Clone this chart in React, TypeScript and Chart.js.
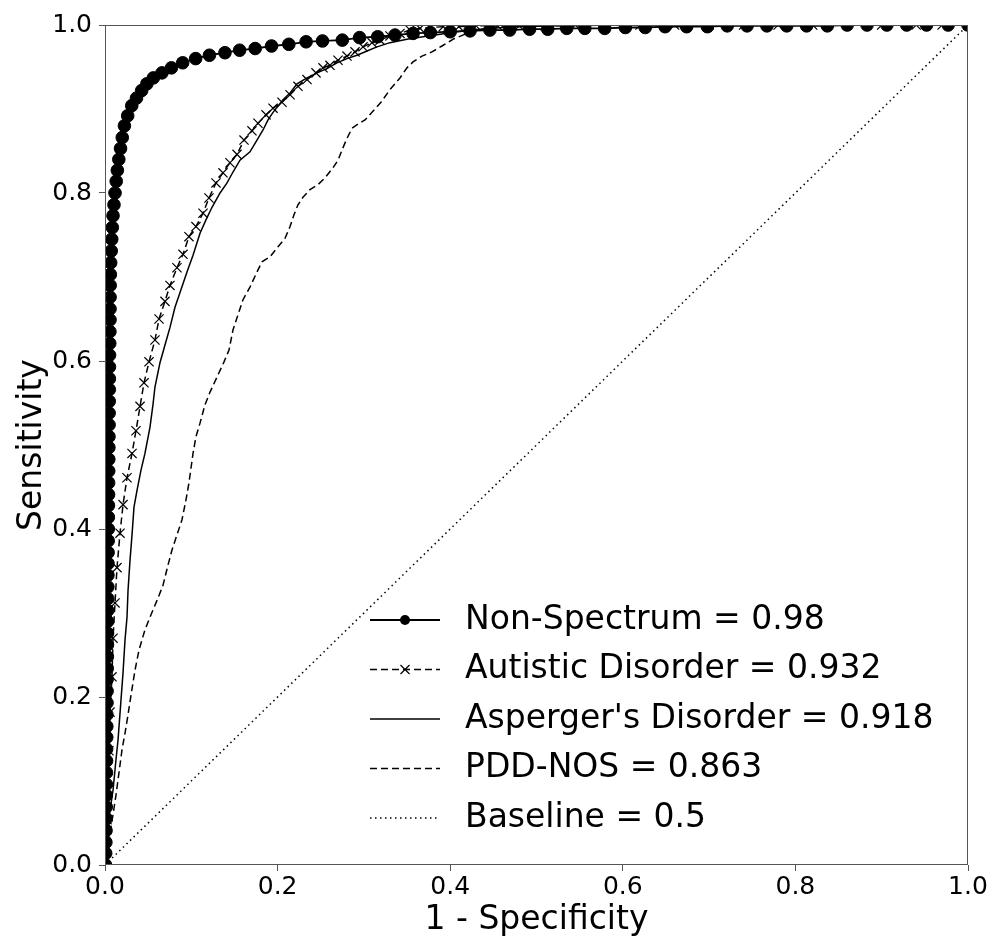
import React, { useEffect, useRef } from "react";
import { Chart, registerables } from "chart.js";

Chart.register(...registerables);

// ---------------- data ----------------
const nonSpectrumX = [
  0.0006, 0.0008, 0.001, 0.0012, 0.0013, 0.0014, 0.0015, 0.0016, 0.0017, 0.0018,
  0.0019, 0.002, 0.0021, 0.0022, 0.0023, 0.0024, 0.0025, 0.0026, 0.0027, 0.0028,
  0.0029, 0.003, 0.0031, 0.0032, 0.0033, 0.0034, 0.0035, 0.0036, 0.0037, 0.0038,
  0.0039, 0.004, 0.0041, 0.0042, 0.0043, 0.0044, 0.0045, 0.0046, 0.0047, 0.0048,
  0.0049, 0.005, 0.0051, 0.0052, 0.0053, 0.0055, 0.0057, 0.0058, 0.0058, 0.0059,
  0.006, 0.0062, 0.0066, 0.0072, 0.0078, 0.0085, 0.0093, 0.0104, 0.0116, 0.013,
  0.0143, 0.016, 0.018, 0.02, 0.0225, 0.0263, 0.031, 0.0365, 0.0425, 0.0485,
  0.056, 0.066, 0.077, 0.09, 0.105, 0.121, 0.139, 0.156, 0.174, 0.193,
  0.213, 0.233, 0.252, 0.275, 0.295, 0.316, 0.336, 0.357, 0.377, 0.4,
  0.423, 0.446, 0.469, 0.492, 0.513, 0.535, 0.556, 0.579, 0.603, 0.626,
  0.649, 0.674, 0.698, 0.721, 0.744, 0.767, 0.79, 0.813, 0.837, 0.86,
  0.883, 0.906, 0.929, 0.952, 0.977, 1.0,
];
const nonSpectrumY = [
  0.0, 0.014, 0.027, 0.041, 0.055, 0.069, 0.083, 0.096, 0.11, 0.124,
  0.138, 0.152, 0.165, 0.179, 0.193, 0.207, 0.221, 0.234, 0.248, 0.262,
  0.276, 0.29, 0.303, 0.317, 0.331, 0.345, 0.359, 0.372, 0.386, 0.4,
  0.414, 0.428, 0.441, 0.455, 0.469, 0.483, 0.497, 0.51, 0.524, 0.538,
  0.552, 0.566, 0.579, 0.593, 0.607, 0.621, 0.635, 0.649, 0.662, 0.676,
  0.69, 0.703, 0.717, 0.731, 0.745, 0.759, 0.773, 0.786, 0.8, 0.814,
  0.827, 0.84, 0.853, 0.866, 0.88, 0.892, 0.904, 0.913, 0.922, 0.93,
  0.937, 0.943, 0.949, 0.955, 0.96, 0.964, 0.967, 0.97, 0.972, 0.975,
  0.977, 0.98, 0.981, 0.982, 0.985, 0.986, 0.988, 0.99, 0.991, 0.992,
  0.993, 0.994, 0.994, 0.995, 0.995, 0.996, 0.996, 0.996, 0.997, 0.997,
  0.998, 0.998, 0.998, 0.999, 0.999, 0.999, 0.999, 0.999, 0.999, 1.0,
  1.0, 1.0, 1.0, 1.0, 1.0, 1.0,
];

const autisticX = [
  0.0, 0.0012, 0.0023, 0.0035, 0.0046, 0.0058, 0.0081, 0.0093, 0.0116, 0.0139,
  0.0174, 0.0209, 0.0255, 0.0313, 0.0359, 0.0406, 0.0452, 0.051, 0.0579, 0.0626,
  0.0695, 0.0753, 0.0834, 0.0904, 0.0973, 0.1054, 0.1136, 0.1205, 0.1286, 0.1367,
  0.1448, 0.153, 0.1611, 0.1703, 0.1773, 0.1866, 0.1947, 0.2051, 0.2144, 0.2236,
  0.2341, 0.2445, 0.2526, 0.2607, 0.27, 0.2804, 0.2897, 0.299, 0.3094, 0.3187,
  0.3302, 0.3418, 0.3534, 0.365, 0.3766, 0.392, 0.41, 0.43, 0.455, 0.48,
  0.51, 0.545, 0.58, 0.62, 0.66, 0.7, 0.74, 0.78, 0.82, 0.86,
  0.9, 0.94, 0.97, 1.0,
];
const autisticY = [
  0.0, 0.02, 0.054, 0.089, 0.136, 0.182, 0.224, 0.27, 0.312, 0.354,
  0.395, 0.429, 0.461, 0.49, 0.517, 0.546, 0.574, 0.599, 0.625, 0.65,
  0.671, 0.69, 0.711, 0.727, 0.748, 0.76, 0.776, 0.794, 0.812, 0.824,
  0.836, 0.846, 0.863, 0.874, 0.883, 0.893, 0.901, 0.908, 0.917, 0.927,
  0.935, 0.943, 0.949, 0.952, 0.958, 0.963, 0.968, 0.974, 0.979, 0.982,
  0.987, 0.99, 0.994, 0.996, 0.997, 0.998, 0.998, 0.999, 0.999, 0.999,
  0.999, 1.0, 1.0, 1.0, 1.0, 1.0, 1.0, 1.0, 1.0, 1.0,
  1.0, 1.0, 1.0, 1.0,
];

const aspergerX = [
  0.0, 0.0012, 0.0035, 0.0058, 0.0093, 0.0127, 0.0151, 0.0185, 0.0209, 0.0232,
  0.0255, 0.0267, 0.029, 0.0313, 0.0336, 0.0371, 0.0417, 0.0463, 0.0521, 0.0556,
  0.0579, 0.0637, 0.0695, 0.0753, 0.0811, 0.0881, 0.095, 0.102, 0.1101, 0.117,
  0.124, 0.1333, 0.1414, 0.1483, 0.1564, 0.168, 0.1761, 0.1831, 0.1889, 0.1947,
  0.2063, 0.2144, 0.2225, 0.2341, 0.2457, 0.2572, 0.2688, 0.2804, 0.292, 0.3036,
  0.3152, 0.3302, 0.3499, 0.3685, 0.3882, 0.4079, 0.4264, 0.4461, 0.481, 0.527,
  0.597, 1.0,
];
const aspergerY = [
  0.0, 0.012, 0.038, 0.065, 0.089, 0.125, 0.149, 0.196, 0.229, 0.268,
  0.295, 0.327, 0.363, 0.393, 0.426, 0.446, 0.47, 0.49, 0.521, 0.548,
  0.569, 0.598, 0.619, 0.64, 0.664, 0.685, 0.706, 0.726, 0.752, 0.768,
  0.783, 0.8, 0.812, 0.825, 0.839, 0.849, 0.863, 0.875, 0.887, 0.896,
  0.911, 0.919, 0.93, 0.937, 0.943, 0.948, 0.955, 0.96, 0.964, 0.969,
  0.974, 0.979, 0.983, 0.986, 0.989, 0.992, 0.994, 0.996, 0.998, 0.999,
  1.0, 1.0,
];

const pddNosX = [
  0.0, 0.0023, 0.0035, 0.0058, 0.0093, 0.0127, 0.0162, 0.0197, 0.0232, 0.0267,
  0.0301, 0.0348, 0.0394, 0.0463, 0.0521, 0.0603, 0.0672, 0.073, 0.0776, 0.0834,
  0.0892, 0.0939, 0.0973, 0.102, 0.1054, 0.1101, 0.1159, 0.1217, 0.1298, 0.1379,
  0.1437, 0.1483, 0.1541, 0.1599, 0.168, 0.1761, 0.1819, 0.1912, 0.2005, 0.2086,
  0.2144, 0.219, 0.2236, 0.2294, 0.2375, 0.2468, 0.2549, 0.2642, 0.27, 0.2758,
  0.2804, 0.2862, 0.2932, 0.3013, 0.3094, 0.3198, 0.3302, 0.3418, 0.3499, 0.3569,
  0.3673, 0.3789, 0.3905, 0.4032, 0.4195, 0.438, 0.4635, 0.504, 0.574, 1.0,
];
const pddNosY = [
  0.0, 0.006, 0.018, 0.038, 0.06, 0.083, 0.11, 0.137, 0.157, 0.179,
  0.202, 0.232, 0.256, 0.28, 0.295, 0.315, 0.333, 0.357, 0.375, 0.393,
  0.411, 0.435, 0.455, 0.49, 0.51, 0.526, 0.548, 0.563, 0.581, 0.599,
  0.613, 0.637, 0.655, 0.673, 0.688, 0.706, 0.718, 0.724, 0.736, 0.746,
  0.76, 0.774, 0.786, 0.795, 0.804, 0.81, 0.818, 0.83, 0.839, 0.854,
  0.865, 0.877, 0.882, 0.887, 0.896, 0.908, 0.923, 0.937, 0.949, 0.956,
  0.963, 0.968, 0.975, 0.983, 0.99, 0.995, 0.998, 0.999, 1.0, 1.0,
];

const baselineX = [0.0, 1.0];
const baselineY = [0.0, 1.0];

const seriesLabels = [
  "Non-Spectrum = 0.98",
  "Autistic Disorder = 0.932",
  "Asperger's Disorder = 0.918",
  "PDD-NOS = 0.863",
  "Baseline = 0.5",
];
const xTitle = "1 - Specificity";
const yTitle = "Sensitivity";
const tickValues = [0, 0.2, 0.4, 0.6, 0.8, 1.0];

// ---------------- styles ----------------
const FONT = '"DejaVu Sans", "Noto Sans", sans-serif';

type SeriesStyle = {
  width: number;
  dash: number[];
  marker: "circle" | "cross" | "none";
  radius: number;
  markerWidth: number;
};

const seriesStyles: SeriesStyle[] = [
  { width: 1.8, dash: [], marker: "circle", radius: 6.3, markerWidth: 1 },
  { width: 1.5, dash: [7, 4], marker: "cross", radius: 6.5, markerWidth: 1.2 },
  { width: 1.5, dash: [], marker: "none", radius: 0, markerWidth: 1 },
  { width: 1.5, dash: [7, 4], marker: "none", radius: 0, markerWidth: 1 },
  { width: 1.5, dash: [1.5, 3.5], marker: "none", radius: 0, markerWidth: 1 },
];

const seriesData: [number[], number[]][] = [
  [nonSpectrumX, nonSpectrumY],
  [autisticX, autisticY],
  [aspergerX, aspergerY],
  [pddNosX, pddNosY],
  [baselineX, baselineY],
];

const framePlugin = {
  id: "frame",
  afterDatasetsDraw(chart: any) {
    const { ctx, chartArea: a } = chart;
    ctx.save();
    ctx.strokeStyle = "#555";
    ctx.lineWidth = 1;
    ctx.setLineDash([]);
    ctx.strokeRect(a.left + 0.5, a.top + 0.5, a.right - a.left - 1, a.bottom - a.top - 1);
    ctx.restore();
  },
};

const legendPlugin = {
  id: "rocLegend",
  afterDraw(chart: any) {
    const { ctx, chartArea: a } = chart;
    const x0 = a.left + 265;
    const x1 = a.left + 335;
    const tx = a.left + 360;
    const y0 = a.top + 595;
    const dy = 49.5;
    seriesStyles.forEach((s, i) => {
      const y = y0 + i * dy;
      ctx.save();
      ctx.strokeStyle = "#000";
      ctx.fillStyle = "#000";
      ctx.lineWidth = s.width;
      ctx.setLineDash(s.dash);
      ctx.beginPath();
      ctx.moveTo(x0, y);
      ctx.lineTo(x1, y);
      ctx.stroke();
      ctx.setLineDash([]);
      const cx = (x0 + x1) / 2;
      if (s.marker === "circle") {
        ctx.beginPath();
        ctx.arc(cx, y, 5, 0, Math.PI * 2);
        ctx.fill();
      } else if (s.marker === "cross") {
        const r = 4.5;
        ctx.lineWidth = 1.2;
        ctx.beginPath();
        ctx.moveTo(cx - r, y - r);
        ctx.lineTo(cx + r, y + r);
        ctx.moveTo(cx - r, y + r);
        ctx.lineTo(cx + r, y - r);
        ctx.stroke();
      }
      ctx.font = `33px ${FONT}`;
      ctx.textBaseline = "middle";
      ctx.textAlign = "left";
      ctx.fillText(seriesLabels[i], tx, y);
      ctx.restore();
    });
  },
};

export default function App() {
  const canvasRef = useRef<HTMLCanvasElement | null>(null);

  useEffect(() => {
    document.body.style.margin = "0";
    const canvas = canvasRef.current;
    if (!canvas) return;

    const datasets = seriesData.map(([xs, ys], i) => {
      const s = seriesStyles[i];
      return {
        label: seriesLabels[i],
        data: xs.map((x, j) => ({ x, y: ys[j] })),
        showLine: true,
        borderColor: "#000",
        backgroundColor: "#000",
        borderWidth: s.width,
        borderDash: s.dash,
        pointRadius: s.radius,
        pointHoverRadius: s.radius,
        pointStyle: s.marker === "cross" ? "crossRot" : "circle",
        pointBorderWidth: s.markerWidth,
        pointBackgroundColor: "#000",
        pointBorderColor: "#000",
        tension: 0,
        clip: 0,
        order: i,
      };
    });

    const tickCb = (v: any) => Number(v).toFixed(1);

    const chart = new Chart(canvas, {
      type: "scatter",
      data: { datasets: datasets as any },
      options: {
        animation: false,
        responsive: false,
        devicePixelRatio: 1,
        layout: { padding: { left: 0, top: 25, right: 23, bottom: 0 } },
        plugins: {
          legend: { display: false },
          tooltip: { enabled: false },
        },
        scales: {
          x: {
            type: "linear",
            min: 0,
            max: 1,
            afterFit: (scale: any) => {
              scale.height = 75;
            },
            afterBuildTicks: (scale: any) => {
              scale.ticks = tickValues.map((v) => ({ value: v }));
            },
            ticks: {
              callback: tickCb,
              color: "#000",
              font: { family: FONT, size: 25 },
              padding: 1,
              maxRotation: 0,
              autoSkip: false,
            },
            grid: {
              display: true,
              drawOnChartArea: false,
              drawTicks: true,
              tickLength: 6,
              tickColor: "#555",
              tickWidth: 1,
            },
            border: { display: false },
            title: {
              display: true,
              text: xTitle,
              color: "#000",
              font: { family: FONT, size: 33 },
              padding: { top: 0, bottom: 0 },
            },
          },
          y: {
            type: "linear",
            min: 0,
            max: 1,
            afterFit: (scale: any) => {
              scale.width = 105;
            },
            afterBuildTicks: (scale: any) => {
              scale.ticks = tickValues.map((v) => ({ value: v }));
            },
            ticks: {
              callback: tickCb,
              color: "#000",
              font: { family: FONT, size: 25 },
              padding: 7,
              autoSkip: false,
            },
            grid: {
              display: true,
              drawOnChartArea: false,
              drawTicks: true,
              tickLength: 6,
              tickColor: "#555",
              tickWidth: 1,
            },
            border: { display: false },
            title: {
              display: true,
              text: yTitle,
              color: "#000",
              font: { family: FONT, size: 33 },
              padding: { top: 13, bottom: 0 },
            },
          },
        },
      },
      plugins: [framePlugin, legendPlugin],
    });

    return () => chart.destroy();
  }, []);

  return (
    <div style={{ position: "absolute", left: 0, top: 0, width: 991, height: 940, background: "#fff" }}>
      <canvas ref={canvasRef} width={991} height={940} style={{ display: "block", width: 991, height: 940 }} />
    </div>
  );
}
